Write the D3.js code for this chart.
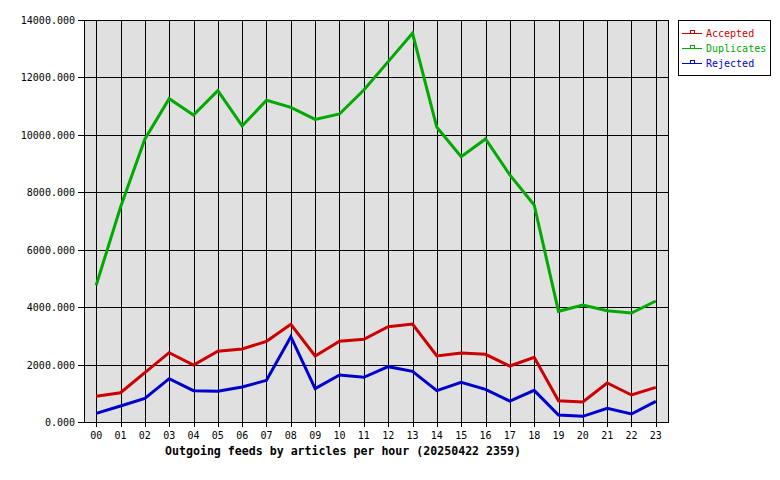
<!DOCTYPE html>
<html>
<head>
<meta charset="utf-8">
<script src="https://cdn.jsdelivr.net/npm/d3@7"></script>
<style>
  body { margin: 0; background: #fff; }
  text { font-family: "DejaVu Sans Mono", monospace; }
</style>
</head>
<body>
<svg id="chart"></svg>
<script>
// hours on the x axis
var hours = ["00","01","02","03","04","05","06","07","08","09","10","11",
             "12","13","14","15","16","17","18","19","20","21","22","23"];

var accepted = [895,1020,1717,2414,1985,2462,2543,2810,3403,2299,2810,2880,
                3320,3413,2299,2403,2357,1950,2253,742,697,1358,940,1208];
var duplicates = [4760,7480,9850,11260,10690,11540,10310,11205,10960,10540,10728,11564,
                  12550,13538,10264,9240,9857,8603,7558,3855,4075,3877,3797,4214];
var rejected = [302,557,825,1509,1091,1068,1219,1451,2971,1161,1637,1556,
                1927,1765,1091,1382,1138,731,1103,244,198,476,278,720];

var yTicks = [0,2000,4000,6000,8000,10000,12000,14000];

var seriesNames = ["Accepted","Duplicates","Rejected"];
var seriesColors = ["#cc0000","#00aa00","#0000cc"];
var seriesData = [accepted, duplicates, rejected];

var W = 780, H = 480;
var margin = { top: 20, left: 84, right: 112, bottom: 58 };
var plotW = W - margin.left - margin.right,
    plotH = H - margin.top - margin.bottom;

var svg = d3.select("#chart")
  .attr("width", W)
  .attr("height", H);

var g = svg.append("g")
  .attr("transform", "translate(" + margin.left + "," + margin.top + ")");

var x = d3.scaleBand().domain(hours).range([0, plotW]);
var y = d3.scaleLinear().domain([0, 14000]).range([plotH, 0]);
var cx = function(h) { return x(h) + x.bandwidth() / 2; };

// plot background
g.append("rect")
  .attr("width", plotW)
  .attr("height", plotH)
  .attr("fill", "#e0e0e0");

// grid lines
g.selectAll(".hgrid").data(yTicks).enter()
  .append("line")
    .attr("x1", 0).attr("x2", plotW)
    .attr("y1", function(d) { return Math.round(y(d)) + 0.5; })
    .attr("y2", function(d) { return Math.round(y(d)) + 0.5; })
    .attr("stroke", "#000").attr("shape-rendering", "crispEdges");

g.selectAll(".vgrid").data(hours).enter()
  .append("line")
    .attr("x1", function(d) { return Math.round(cx(d)) + 0.5; })
    .attr("x2", function(d) { return Math.round(cx(d)) + 0.5; })
    .attr("y1", 0).attr("y2", plotH + 5)
    .attr("stroke", "#000").attr("shape-rendering", "crispEdges");

// frame
g.append("rect")
  .attr("x", 0.5).attr("y", 0.5)
  .attr("width", plotW).attr("height", plotH)
  .attr("fill", "none").attr("stroke", "#000")
  .attr("shape-rendering", "crispEdges");

// y ticks + labels
g.selectAll(".ytick").data(yTicks).enter()
  .append("line")
    .attr("x1", -6).attr("x2", 0)
    .attr("y1", function(d) { return Math.round(y(d)) + 0.5; })
    .attr("y2", function(d) { return Math.round(y(d)) + 0.5; })
    .attr("stroke", "#000").attr("shape-rendering", "crispEdges");

g.selectAll(".ylabel").data(yTicks).enter()
  .append("text")
    .attr("x", -9)
    .attr("y", function(d) { return y(d) + 4; })
    .attr("text-anchor", "end")
    .attr("font-size", "10px")
    .text(function(d) { return d3.format(".3f")(d); });

// x labels
g.selectAll(".xlabel").data(hours).enter()
  .append("text")
    .attr("x", function(d) { return cx(d); })
    .attr("y", plotH + 16.5)
    .attr("text-anchor", "middle")
    .attr("font-size", "10px")
    .text(function(d) { return d; });

// axis title
svg.append("text")
  .attr("x", 343)
  .attr("y", 455)
  .attr("text-anchor", "middle")
  .attr("font-size", "11.6px")
  .attr("font-weight", "bold")
  .text("Outgoing feeds by articles per hour (20250422 2359)");

// series lines
var line = d3.line()
  .x(function(d, i) { return cx(hours[i]); })
  .y(function(d) { return y(d); });

seriesData.forEach(function(s, k) {
  g.append("path")
    .datum(s)
    .attr("d", line)
    .attr("fill", "none")
    .attr("stroke", seriesColors[k])
    .attr("stroke-width", 3)
    .attr("stroke-linejoin", "miter");
});

// legend
var lg = svg.append("g").attr("transform", "translate(678,20)");
lg.append("rect")
  .attr("x", 0.5).attr("y", 0.5)
  .attr("width", 92).attr("height", 55)
  .attr("fill", "#fff").attr("stroke", "#000")
  .attr("shape-rendering", "crispEdges");

var item = lg.selectAll(".item").data(seriesNames).enter()
  .append("g")
    .attr("transform", function(d, i) { return "translate(0," + (13 + i * 15) + ")"; });

item.append("line")
  .attr("x1", 4).attr("x2", 24)
  .attr("y1", 0.5).attr("y2", 0.5)
  .attr("stroke", function(d, i) { return seriesColors[i]; })
  .attr("shape-rendering", "crispEdges");

item.append("rect")
  .attr("x", 12.5).attr("y", -2.5)
  .attr("width", 4).attr("height", 3)
  .attr("fill", "none")
  .attr("stroke", function(d, i) { return seriesColors[i]; })
  .attr("shape-rendering", "crispEdges");

item.append("text")
  .attr("x", 28)
  .attr("y", 4)
  .attr("font-size", "10px")
  .attr("fill", function(d, i) { return seriesColors[i]; })
  .text(function(d) { return d; });
</script>
</body>
</html>
